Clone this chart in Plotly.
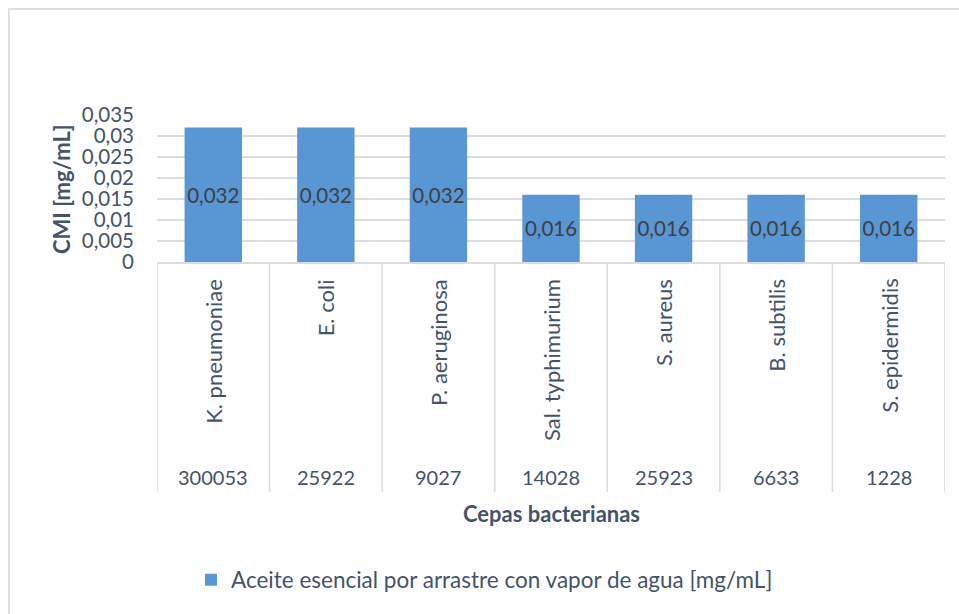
import plotly.graph_objects as go

# Minimum inhibitory concentration of the essential oil per bacterial strain
cepas = ["K. pneumoniae", "E. coli", "P. aeruginosa", "Sal. typhimurium",
         "S. aureus", "B. subtilis", "S. epidermidis"]
codigos = ["300053", "25922", "9027", "14028", "25923", "6633", "1228"]
cmi = [0.032, 0.032, 0.032, 0.016, 0.016, 0.016, 0.016]

y_ticks = [0, 0.005, 0.01, 0.015, 0.02, 0.025, 0.03, 0.035]
y_ticktext = ["0", "0,005", "0,01", "0,015", "0,02", "0,025", "0,03", "0,035"]

serie = "Aceite esencial por arrastre con vapor de agua [mg/mL]"

FONT = "Lato"
TXT = "#44546A"
GRID = "#D9DCE1"

# Figure geometry (pixels)
W, H = 959, 614
L, R, T, B = 157, 14, 115, 352
PW, PH = W - L - R, H - T - B


def py(p):
    """Pixel row -> paper y."""
    return (H - B - p) / PH


def px(p):
    """Pixel column -> paper x."""
    return (p - L) / PW


fig = go.Figure()
fig.add_trace(go.Bar(
    x=cepas, y=cmi, name=serie,
    width=0.51,
    marker=dict(color="#5896D4", line=dict(width=0)),
    texttemplate="%{y:.3f}", textposition="inside", insidetextanchor="middle",
    textangle=0, constraintext="none",
    textfont=dict(family=FONT, size=20.5, color="#404040"),
    hoverinfo="x+y",
))

shapes = []
# outer chart border
shapes.append(dict(type="rect", xref="paper", yref="paper",
                   x0=px(9), x1=px(975), y0=py(630), y1=py(9),
                   line=dict(color="#DDE1E6", width=2), layer="below"))
# category box dividers
for i in range(len(cepas) + 1):
    shapes.append(dict(type="line", xref="x", yref="paper",
                       x0=i - 0.5, x1=i - 0.5, y0=0, y1=py(492),
                       line=dict(color=GRID, width=1.5)))

annotations = []
for c, code in zip(cepas, codigos):
    annotations.append(dict(x=c, xref="x", y=py(277), yref="paper",
                            text=c, textangle=-90, showarrow=False,
                            xanchor="center", yanchor="top",
                            font=dict(family=FONT, size=22, color=TXT)))
    annotations.append(dict(x=c, xref="x", y=py(477), yref="paper",
                            text=code, showarrow=False,
                            xanchor="center", yanchor="middle",
                            font=dict(family=FONT, size=20, color=TXT)))

annotations.append(dict(x=0.5, xref="paper", y=py(513), yref="paper",
                        text="<b>Cepas bacterianas</b>", showarrow=False,
                        xanchor="center", yanchor="middle",
                        font=dict(family=FONT, size=22, color=TXT)))
annotations.append(dict(x=px(61), xref="paper", y=py(189), yref="paper",
                        text="<b>CMI [mg/mL]</b>", textangle=-90, showarrow=False,
                        xanchor="center", yanchor="middle",
                        font=dict(family=FONT, size=22, color=TXT)))

fig.update_layout(
    width=W, height=H,
    margin=dict(l=L, r=R, t=T, b=B, autoexpand=False),
    paper_bgcolor="white", plot_bgcolor="white",
    separators=",.",
    font=dict(family=FONT, size=20, color=TXT),
    showlegend=True,
    legend=dict(orientation="h", xref="container", yref="container",
                x=191 / W, xanchor="left",
                y=1 - 580 / H, yanchor="middle",
                font=dict(family=FONT, size=22.5, color=TXT),
                itemwidth=30, bgcolor="rgba(0,0,0,0)"),
    bargap=0.49,
    shapes=shapes,
    annotations=annotations,
)
fig.update_xaxes(showticklabels=False, showgrid=False, ticks="",
                 showline=True, linecolor=GRID, linewidth=1.5,
                 range=[-0.5, len(cepas) - 0.5], fixedrange=True)
fig.update_yaxes(range=[0, 0.035], tickvals=y_ticks, ticktext=y_ticktext,
                 showgrid=True, gridcolor=GRID, gridwidth=1.5,
                 zeroline=False, showline=False, ticks="",
                 ticklabelstandoff=22,
                 tickfont=dict(family=FONT, size=20.5, color=TXT),
                 fixedrange=True)

fig.write_html("out.html")
